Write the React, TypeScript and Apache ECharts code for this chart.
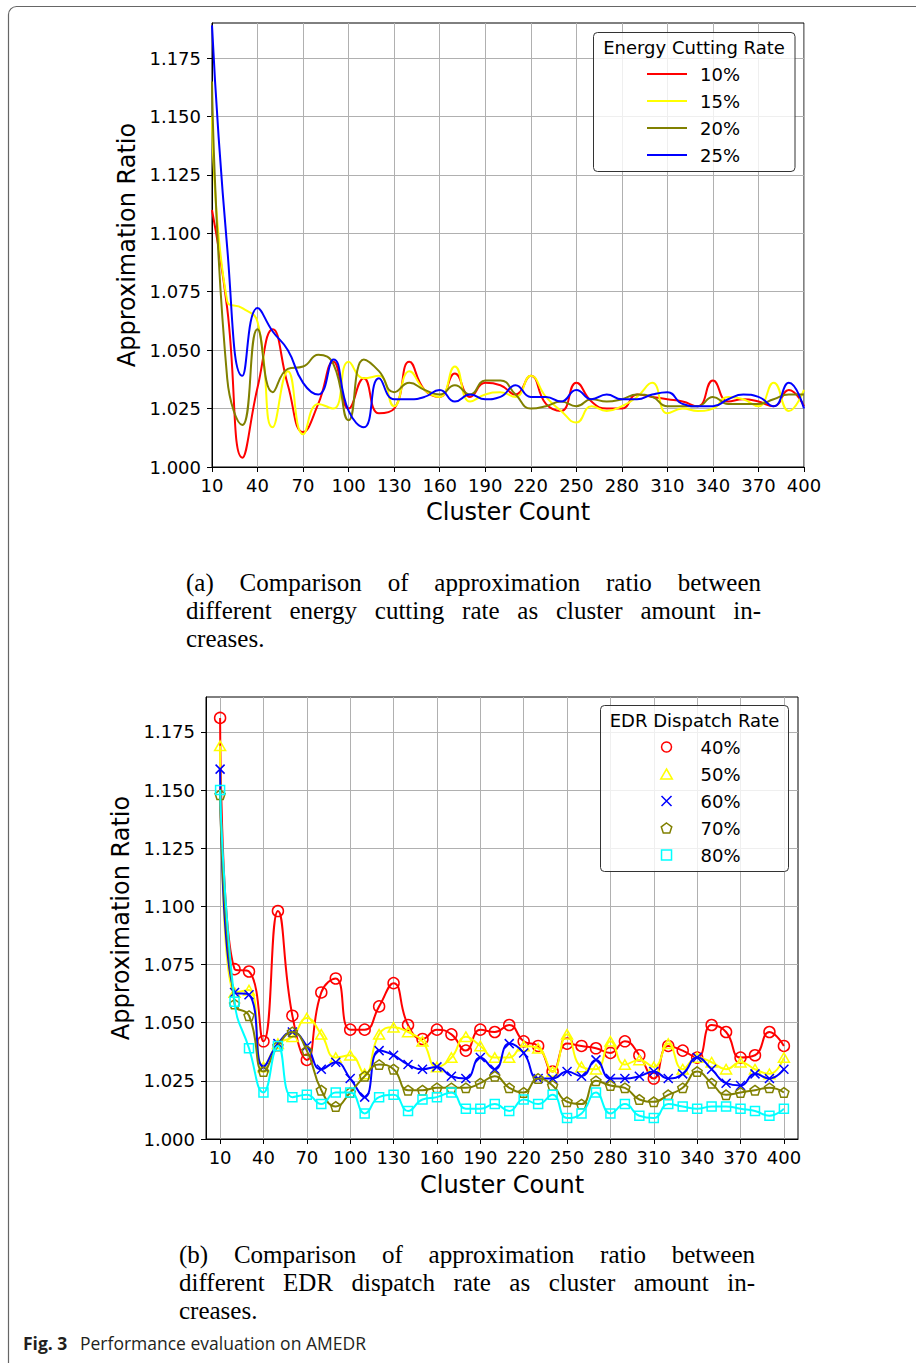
import React, { useEffect, useRef } from 'react';
import * as echarts from 'echarts';

// ---------- data ----------
const clusterCounts = [10, 20, 30, 40, 50, 60, 70, 80, 90, 100, 110, 120, 130, 140, 150, 160, 170, 180, 190, 200,
  210, 220, 230, 240, 250, 260, 270, 280, 290, 300, 310, 320, 330, 340, 350, 360, 370, 380, 390, 400];

const xTickValues = [10, 40, 70, 100, 130, 160, 190, 220, 250, 280, 310, 340, 370, 400];
const yTickValues = [1.0, 1.025, 1.05, 1.075, 1.1, 1.125, 1.15, 1.175];

// (a) energy cutting rate
const cutNames = ['10%', '15%', '20%', '25%'];
const cut10 = [1.110, 1.068, 1.004, 1.034, 1.059, 1.035, 1.015, 1.027, 1.045, 1.025, 1.038, 1.023, 1.025, 1.045, 1.033, 1.030, 1.040, 1.030, 1.036, 1.035,
  1.031, 1.039, 1.027, 1.024, 1.036, 1.028, 1.025, 1.025, 1.031, 1.030, 1.029, 1.028, 1.026, 1.037, 1.028, 1.029, 1.028, 1.026, 1.033, 1.026];
const cut15 = [1.150, 1.071, 1.068, 1.062, 1.017, 1.041, 1.014, 1.027, 1.025, 1.045, 1.038, 1.039, 1.026, 1.041, 1.033, 1.030, 1.043, 1.028, 1.031, 1.032,
  1.030, 1.039, 1.030, 1.024, 1.019, 1.026, 1.024, 1.026, 1.030, 1.036, 1.023, 1.025, 1.024, 1.025, 1.030, 1.029, 1.026, 1.036, 1.024, 1.033];
const cut20 = [1.165, 1.038, 1.018, 1.059, 1.032, 1.042, 1.043, 1.048, 1.044, 1.020, 1.046, 1.041, 1.032, 1.036, 1.033, 1.031, 1.035, 1.031, 1.037, 1.037,
  1.031, 1.025, 1.026, 1.028, 1.026, 1.029, 1.028, 1.029, 1.031, 1.030, 1.026, 1.026, 1.026, 1.030, 1.027, 1.027, 1.027, 1.029, 1.031, 1.031];
const cut25 = [1.189, 1.094, 1.039, 1.068, 1.058, 1.050, 1.036, 1.031, 1.046, 1.024, 1.017, 1.038, 1.029, 1.029, 1.030, 1.033, 1.028, 1.031, 1.029, 1.030,
  1.035, 1.030, 1.030, 1.028, 1.033, 1.029, 1.031, 1.029, 1.029, 1.031, 1.032, 1.027, 1.026, 1.026, 1.029, 1.031, 1.030, 1.026, 1.036, 1.025];
const cutColors = ['#ff0000', '#ffff00', '#808000', '#0000ff'];

// (b) EDR dispatch rate
const edrNames = ['40%', '50%', '60%', '70%', '80%'];
const edr40 = [1.181, 1.073, 1.072, 1.042, 1.098, 1.053, 1.034, 1.063, 1.069, 1.047, 1.047, 1.057, 1.067, 1.049, 1.043, 1.047, 1.045, 1.038, 1.047, 1.046,
  1.049, 1.042, 1.040, 1.029, 1.041, 1.040, 1.039, 1.037, 1.042, 1.036, 1.026, 1.040, 1.038, 1.035, 1.049, 1.046, 1.035, 1.036, 1.046, 1.040];
const edr50 = [1.169, 1.063, 1.064, 1.031, 1.041, 1.044, 1.052, 1.045, 1.035, 1.036, 1.028, 1.045, 1.048, 1.046, 1.042, 1.031, 1.035, 1.044, 1.040, 1.035,
  1.035, 1.040, 1.039, 1.029, 1.045, 1.031, 1.030, 1.042, 1.032, 1.034, 1.031, 1.041, 1.030, 1.035, 1.033, 1.030, 1.033, 1.030, 1.028, 1.035];
const edr60 = [1.159, 1.063, 1.062, 1.031, 1.041, 1.046, 1.040, 1.030, 1.033, 1.026, 1.018, 1.038, 1.036, 1.032, 1.030, 1.031, 1.027, 1.026, 1.035, 1.030,
  1.041, 1.037, 1.026, 1.026, 1.029, 1.027, 1.034, 1.026, 1.026, 1.027, 1.029, 1.026, 1.028, 1.035, 1.030, 1.024, 1.023, 1.028, 1.026, 1.030];
const edr70 = [1.148, 1.058, 1.053, 1.029, 1.040, 1.046, 1.038, 1.021, 1.014, 1.020, 1.027, 1.032, 1.030, 1.021, 1.021, 1.022, 1.022, 1.022, 1.024, 1.027,
  1.022, 1.020, 1.026, 1.023, 1.016, 1.015, 1.025, 1.023, 1.022, 1.017, 1.016, 1.019, 1.022, 1.029, 1.024, 1.019, 1.020, 1.021, 1.022, 1.020];
const edr80 = [1.150, 1.059, 1.039, 1.020, 1.040, 1.018, 1.019, 1.015, 1.020, 1.020, 1.011, 1.018, 1.019, 1.012, 1.017, 1.018, 1.020, 1.013, 1.013, 1.015,
  1.012, 1.017, 1.015, 1.019, 1.009, 1.011, 1.020, 1.011, 1.015, 1.010, 1.009, 1.015, 1.014, 1.013, 1.014, 1.014, 1.013, 1.012, 1.010, 1.013];
const edrColors = ['#ff0000', '#ffff00', '#0000ff', '#808000', '#00ffff'];
const edrSymbols = [
  'circle',
  'path://M5,0L10,8.66L0,8.66Z',
  'path://M0,0L10,10M10,0L0,10',
  'path://M5,0L9.755,3.455L7.939,9.045L2.061,9.045L0.245,3.455Z',
  'path://M0,0L10,0L10,10L0,10Z',
];
const edrSymbolSizes = [11, 11, 9, 10, 9];

// texts
const captionA = [
  '(a) Comparison of approximation ratio between',
  'different energy cutting rate as cluster amount in-',
  'creases.',
];
const captionB = [
  '(b) Comparison of approximation ratio between',
  'different EDR dispatch rate as cluster amount in-',
  'creases.',
];

// ---------- helpers ----------
let measureCtx: CanvasRenderingContext2D | null = null;
function textWidth(s: string, font: string): number {
  if (!measureCtx) measureCtx = document.createElement('canvas').getContext('2d');
  measureCtx!.font = font;
  return measureCtx!.measureText(s).width;
}

const SERIF = 'Liberation Serif';
const CAP_SIZE = 25;

function captionLines(lines: string[], x0: number, x1: number, y0: number, dy: number) {
  const out: any[] = [];
  lines.forEach((line, li) => {
    const y = y0 + li * dy;
    const justify = li < lines.length - 1;
    const words = line.split(' ');
    const font = `${CAP_SIZE}px "${SERIF}"`;
    if (!justify) {
      out.push({ type: 'text', x: x0, y, z: 10, style: { text: line, fontSize: CAP_SIZE, fontFamily: SERIF, fill: '#000', verticalAlign: 'middle' } });
      return;
    }
    const widths = words.map((w) => textWidth(w, font));
    const total = widths.reduce((a, b) => a + b, 0);
    const gap = (x1 - x0 - total) / (words.length - 1);
    let x = x0;
    words.forEach((w, i) => {
      out.push({ type: 'text', x, y, z: 10, style: { text: w, fontSize: CAP_SIZE, fontFamily: SERIF, fill: '#000', verticalAlign: 'middle' } });
      x += widths[i] + gap;
    });
  });
  return out;
}

const pairs = (ys: number[]) => clusterCounts.map((x, i) => [x, ys[i]]);

const FONT = 'DejaVu Sans';

function xAxisCfg(gridIndex: number, min: number, max: number, nameGap: number) {
  return {
    type: 'value', gridIndex, min, max,
    name: 'Cluster Count', nameLocation: 'middle', nameGap,
    nameTextStyle: { fontSize: 24, color: '#000', fontFamily: FONT },
    axisLine: { show: true, onZero: false, lineStyle: { color: '#000', width: 1 } },
    axisTick: { show: true, length: 5, customValues: xTickValues, lineStyle: { color: '#000', width: 1 } },
    axisLabel: { customValues: xTickValues, fontSize: 18, color: '#000', fontFamily: FONT, margin: 9 },
    splitLine: { show: true, lineStyle: { color: '#b0b0b0', width: 1 } },
  };
}

function yAxisCfg(gridIndex: number) {
  return {
    type: 'value', gridIndex, min: 1.0, max: 1.19,
    name: 'Approximation Ratio', nameLocation: 'middle', nameGap: 72, nameRotate: 90,
    nameTextStyle: { fontSize: 24, color: '#000', fontFamily: FONT },
    axisLine: { show: true, onZero: false, lineStyle: { color: '#000', width: 1 } },
    axisTick: { show: true, length: 5, customValues: yTickValues, lineStyle: { color: '#000', width: 1 } },
    axisLabel: { customValues: yTickValues, fontSize: 18, color: '#000', fontFamily: FONT, margin: 11, formatter: (v: number) => v.toFixed(3) },
    splitLine: { show: true, lineStyle: { color: '#b0b0b0', width: 1 } },
  };
}

function buildOption() {
  const cutData = [cut10, cut15, cut20, cut25];
  const edrData = [edr40, edr50, edr60, edr70, edr80];

  const series: any[] = [];
  cutNames.forEach((n, i) => {
    series.push({
      type: 'line', name: n, xAxisIndex: 0, yAxisIndex: 0, data: pairs(cutData[i]),
      smooth: 0.5, showSymbol: false, symbol: 'none',
      lineStyle: { color: cutColors[i], width: 2 }, itemStyle: { color: cutColors[i] }, z: 2 + i * 0.01,
    });
  });
  edrNames.forEach((n, i) => {
    series.push({
      type: 'line', name: n, xAxisIndex: 1, yAxisIndex: 1, data: pairs(edrData[i]),
      smooth: 0.5, symbol: edrSymbols[i], symbolSize: edrSymbolSizes[i], symbolKeepAspect: true, showSymbol: true,
      lineStyle: { color: edrColors[i], width: 2 },
      itemStyle: { color: 'rgba(0,0,0,0)', borderColor: edrColors[i], borderWidth: 1.5 },
      z: 2 + i * 0.01,
    });
  });

  const graphic: any[] = [
    // outer figure frame
    { type: 'rect', z: 0, shape: { x: 8.5, y: 6.5, width: 1000, height: 1400, r: 8 }, style: { fill: 'none', stroke: '#666', lineWidth: 1.2 } },
    // legend (a) box + title
    { type: 'rect', z: 5, shape: { x: 593.5, y: 32.5, width: 201.5, height: 139, r: 4 }, style: { fill: 'rgba(255,255,255,0.8)', stroke: '#333', lineWidth: 1 } },
    { type: 'text', z: 6, x: 694, y: 47.5, style: { text: 'Energy Cutting Rate', fontSize: 18, fontFamily: FONT, fill: '#000', align: 'center', verticalAlign: 'middle' } },
    // legend (b) box + title
    { type: 'rect', z: 5, shape: { x: 600.5, y: 705.5, width: 188, height: 166, r: 4 }, style: { fill: 'rgba(255,255,255,0.8)', stroke: '#333', lineWidth: 1 } },
    { type: 'text', z: 6, x: 694.5, y: 720, style: { text: 'EDR Dispatch Rate', fontSize: 18, fontFamily: FONT, fill: '#000', align: 'center', verticalAlign: 'middle' } },
    ...captionLines(captionA, 186, 761, 582, 28),
    ...captionLines(captionB, 179, 755, 1254, 28),
    { type: 'text', z: 10, x: 23, y: 1343, style: { text: 'Fig. 3', fontSize: 17.5, fontWeight: 'bold', fontFamily: 'Open Sans', fill: '#231f20', verticalAlign: 'middle' } },
    { type: 'text', z: 10, x: 80, y: 1343, style: { text: 'Performance evaluation on AMEDR', fontSize: 17.5, fontFamily: 'Open Sans', fill: '#231f20', verticalAlign: 'middle' } },
  ];

  return {
    animation: false,
    backgroundColor: '#fff',
    textStyle: { fontFamily: FONT },
    grid: [
      { left: 212, top: 23, width: 592, height: 444, show: true, borderColor: '#000', borderWidth: 1, backgroundColor: 'transparent' },
      { left: 206, top: 697, width: 592, height: 442, show: true, borderColor: '#000', borderWidth: 1, backgroundColor: 'transparent' },
    ],
    xAxis: [xAxisCfg(0, 10, 400, 33), xAxisCfg(1, 0.25, 409.75, 34)],
    yAxis: [yAxisCfg(0), yAxisCfg(1)],
    legend: [
      {
        data: cutNames.map((n, i) => ({ name: n, icon: 'rect', itemStyle: { color: cutColors[i], borderWidth: 0 } })),
        orient: 'vertical', left: 647, top: 60.5, itemWidth: 40, itemHeight: 2, itemGap: 0, padding: 0,
        selectedMode: false, z: 7,
        textStyle: { fontSize: 18, color: '#000', fontFamily: FONT, lineHeight: 27, padding: [0, 0, 0, 8] },
      },
      {
        data: edrNames.map((n, i) => ({
          name: n, icon: edrSymbols[i],
          itemStyle: { color: 'rgba(0,0,0,0)', borderColor: edrColors[i], borderWidth: 1.5 },
        })),
        orient: 'vertical', left: 660, top: 733.5, itemWidth: 40, itemHeight: 10, itemGap: 0, padding: 0,
        selectedMode: false, z: 7, symbolKeepAspect: true,
        textStyle: { fontSize: 18, color: '#000', fontFamily: FONT, lineHeight: 27, padding: [0, 0, 0, 9] },
      },
    ],
    graphic,
    series,
  };
}

export default function App() {
  const ref = useRef<HTMLDivElement>(null);
  useEffect(() => {
    const chart = echarts.init(ref.current!, null, { renderer: 'svg', width: 916, height: 1363 });
    chart.setOption(buildOption() as any);
    return () => chart.dispose();
  }, []);
  return (
    <div
      ref={ref}
      style={{ position: 'absolute', left: 0, top: 0, width: 916, height: 1363, background: '#fff' }}
    />
  );
}
